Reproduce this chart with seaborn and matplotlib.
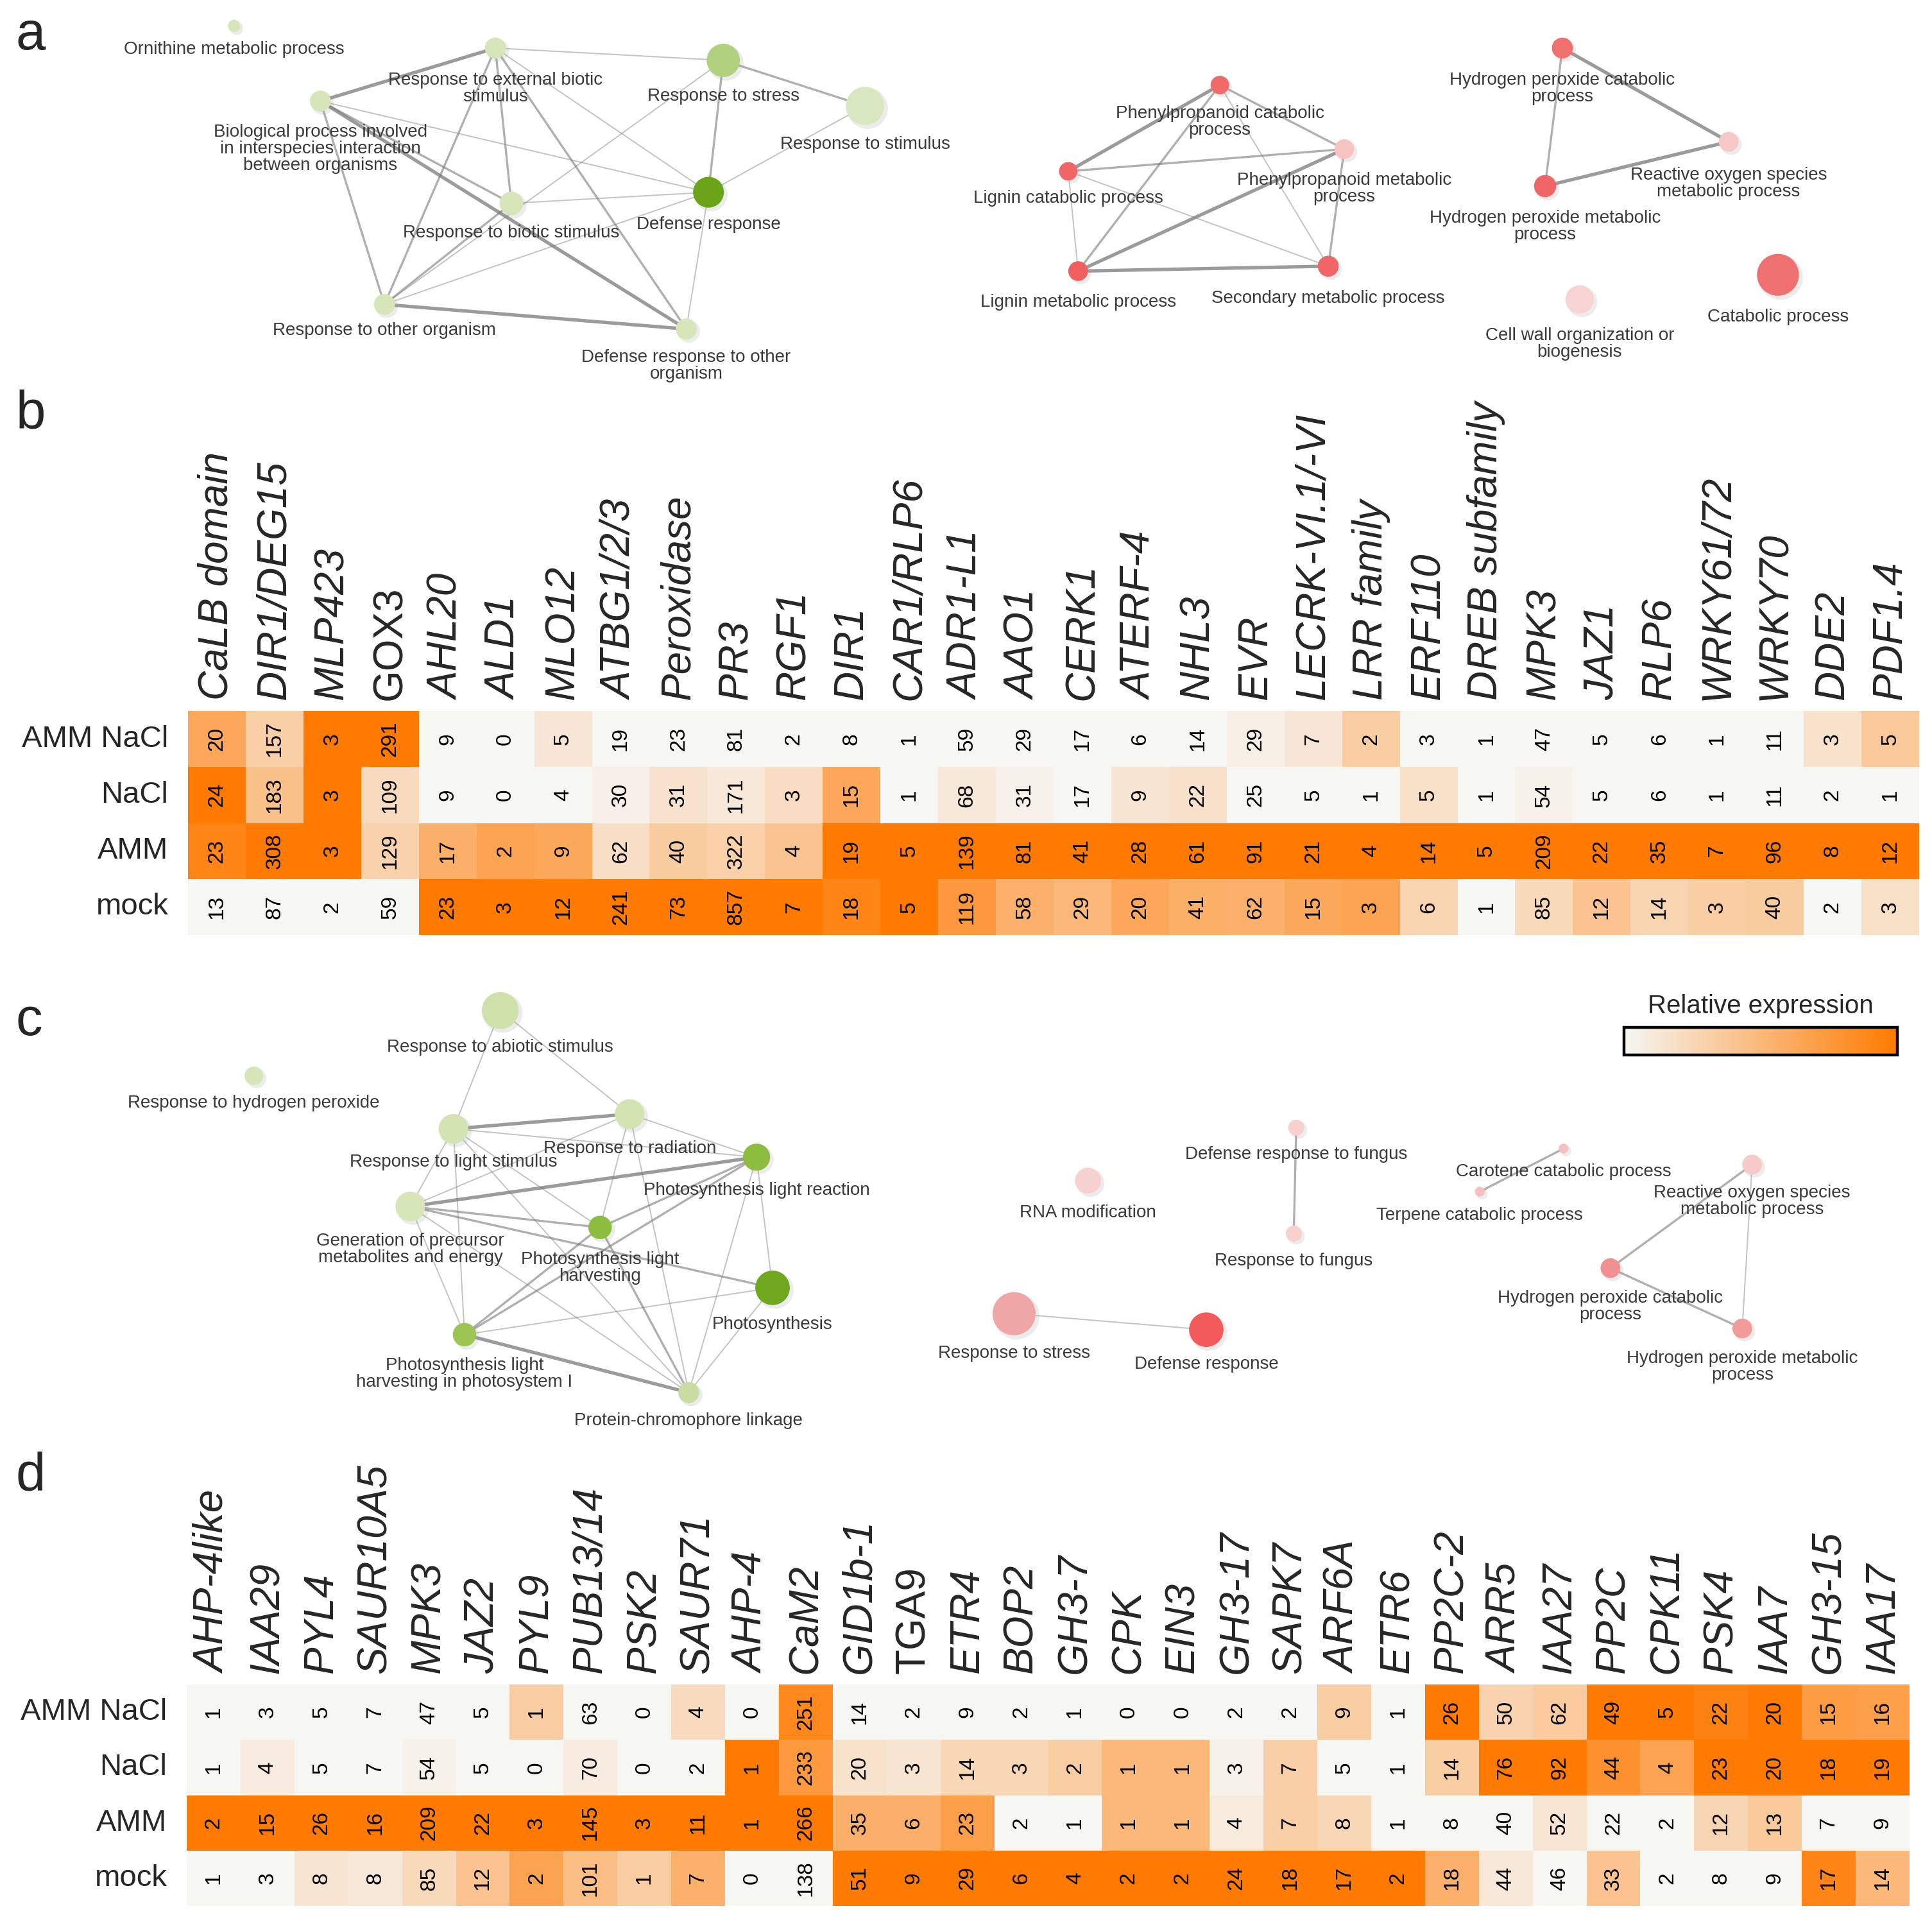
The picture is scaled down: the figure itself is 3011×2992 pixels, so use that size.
import numpy as np
import pandas as pd
import matplotlib
matplotlib.use("Agg")
import matplotlib.pyplot as plt
from matplotlib.colors import LinearSegmentedColormap
import matplotlib.colorbar as mcolorbar
from matplotlib import font_manager
import seaborn as sns

# ---------------- data ----------------
conditions = ["AMM NaCl", "NaCl", "AMM", "mock"]

genes_b = ["CaLB domain", "DIR1/DEG15", "MLP423", "GOX3", "AHL20", "ALD1", "MLO12",
           "ATBG1/2/3", "Peroxidase", "PR3", "RGF1", "DIR1", "CAR1/RLP6", "ADR1-L1",
           "AAO1", "CERK1", "ATERF-4", "NHL3", "EVR", "LECRK-VI.1/-VI", "LRR family",
           "ERF110", "DREB subfamily", "MPK3", "JAZ1", "RLP6", "WRKY61/72", "WRKY70",
           "DDE2", "PDF1.4"]
b_amm_nacl = [20, 157, 3, 291, 9, 0, 5, 19, 23, 81, 2, 8, 1, 59, 29, 17, 6, 14, 29, 7, 2, 3, 1, 47, 5, 6, 1, 11, 3, 5]
b_nacl     = [24, 183, 3, 109, 9, 0, 4, 30, 31, 171, 3, 15, 1, 68, 31, 17, 9, 22, 25, 5, 1, 5, 1, 54, 5, 6, 1, 11, 2, 1]
b_amm      = [23, 308, 3, 129, 17, 2, 9, 62, 40, 322, 4, 19, 5, 139, 81, 41, 28, 61, 91, 21, 4, 14, 5, 209, 22, 35, 7, 96, 8, 12]
b_mock     = [13, 87, 2, 59, 23, 3, 12, 241, 73, 857, 7, 18, 5, 119, 58, 29, 20, 41, 62, 15, 3, 6, 1, 85, 12, 14, 3, 40, 2, 3]

genes_d = ["AHP-4like", "IAA29", "PYL4", "SAUR10A5", "MPK3", "JAZ2", "PYL9", "PUB13/14",
           "PSK2", "SAUR71", "AHP-4", "CaM2", "GID1b-1", "TGA9", "ETR4", "BOP2", "GH3-7",
           "CPK", "EIN3", "GH3-17", "SAPK7", "ARF6A", "ETR6", "PP2C-2", "ARR5", "IAA27",
           "PP2C", "CPK11", "PSK4", "IAA7", "GH3-15", "IAA17"]
d_amm_nacl = [1, 3, 5, 7, 47, 5, 1, 63, 0, 4, 0, 251, 14, 2, 9, 2, 1, 0, 0, 2, 2, 9, 1, 26, 50, 62, 49, 5, 22, 20, 15, 16]
d_nacl     = [1, 4, 5, 7, 54, 5, 0, 70, 0, 2, 1, 233, 20, 3, 14, 3, 2, 1, 1, 3, 7, 5, 1, 14, 76, 92, 44, 4, 23, 20, 18, 19]
d_amm      = [2, 15, 26, 16, 209, 22, 3, 145, 3, 11, 1, 266, 35, 6, 23, 2, 1, 1, 1, 4, 7, 8, 1, 8, 40, 52, 22, 2, 12, 13, 7, 9]
d_mock     = [1, 3, 8, 8, 85, 12, 2, 101, 1, 7, 0, 138, 51, 9, 29, 6, 4, 2, 2, 24, 18, 17, 2, 18, 44, 46, 33, 2, 8, 9, 17, 14]

upright_genes = ["GOX3", "TGA9"]

# network a (layout units)
a_names = ["Ornithine metabolic process", "Response to external biotic\nstimulus",
           "Response to stress", "Response to stimulus",
           "Biological process involved\nin interspecies interaction\nbetween organisms",
           "Defense response", "Response to biotic stimulus", "Response to other organism",
           "Defense response to other\norganism",
           "Phenylpropanoid catabolic\nprocess", "Lignin catabolic process",
           "Phenylpropanoid metabolic\nprocess", "Lignin metabolic process",
           "Secondary metabolic process", "Hydrogen peroxide catabolic\nprocess",
           "Reactive oxygen species\nmetabolic process", "Hydrogen peroxide metabolic\nprocess",
           "Cell wall organization or\nbiogenesis", "Catabolic process"]
a_x = [190, 402, 587, 702, 260, 575, 415, 312, 557, 990, 867, 1091, 875, 1078, 1268, 1403, 1254, 1282, 1443]
a_y = [21, 39, 49, 86, 82, 156, 165, 247, 267, 69, 139, 121, 220, 216, 39, 115, 151, 243, 223]
a_size = [10, 17, 27, 31, 17, 25, 19, 17, 17, 15, 15, 16, 16, 17, 17, 16, 18, 23, 34]
a_color = ["#d6e6b8", "#d6e6b8", "#b2d17f", "#d9e7c0", "#d6e6b8", "#6aa519", "#d6e6b8", "#d6e6b8", "#d6e6b8",
           "#f06a6a", "#f06565", "#f7c4c4", "#f25f5f", "#f06666", "#f07070", "#f7c8c8", "#f06565", "#f8d3d3", "#ef7070"]
a_label_x = [190, 402, 587, 702, 260, 575, 415, 312, 557, 990, 867, 1091, 875, 1078, 1268, 1403, 1254, 1282, 1443]
a_label_y = [40, 72, 78, 117, 121, 182, 189, 268, 297, 99, 161, 153, 245, 242, 72, 149, 184, 279, 257]
a_src = [4, 4, 4, 4, 4, 1, 1, 1, 1, 1, 2, 2, 2, 3, 6, 6, 7, 7, 5,
         9, 9, 9, 9, 10, 10, 10, 12, 12, 11, 14, 14, 16]
a_dst = [1, 7, 8, 6, 5, 7, 6, 8, 2, 5, 3, 5, 7, 5, 5, 7, 8, 5, 8,
         10, 12, 11, 13, 11, 12, 13, 11, 13, 13, 15, 16, 15]
a_w = [3, 2, 3, 2, 1, 2, 2, 2, 1, 1, 2, 2, 1, 1, 1, 2, 3, 1, 1,
       3, 2, 2, 1, 2, 1, 1, 3, 3, 2, 3, 2, 3]

# network c (layout units)
c_names = ["Response to abiotic stimulus", "Response to hydrogen peroxide",
           "Response to light stimulus", "Response to radiation",
           "Photosynthesis light reaction", "Generation of precursor\nmetabolites and energy",
           "Photosynthesis light\nharvesting", "Photosynthesis",
           "Photosynthesis light\nharvesting in photosystem I", "Protein-chromophore linkage",
           "RNA modification", "Defense response to fungus", "Response to fungus",
           "Response to stress", "Defense response", "Carotene catabolic process",
           "Terpene catabolic process", "Reactive oxygen species\nmetabolic process",
           "Hydrogen peroxide catabolic\nprocess", "Hydrogen peroxide metabolic\nprocess"]
c_x = [406, 206, 368, 511, 614, 333, 487, 627, 377, 559, 883, 1052, 1050, 823, 979, 1269, 1201, 1422, 1307, 1414]
c_y = [820, 873, 916, 904, 939, 979, 996, 1045, 1083, 1130, 958, 915, 1001, 1066, 1079, 932, 967, 945, 1029, 1078]
c_size = [30, 15, 24, 24, 22, 24, 19, 28, 19, 17, 21, 13, 13, 35, 28, 8, 8, 16, 16, 16]
c_color = ["#cfe1aa", "#d6e6b8", "#d3e4b2", "#d3e4b2", "#8dbd3e", "#d6e6b8", "#8dbd3e", "#6fa71f", "#9cc653", "#c8dd9f",
           "#f7d0d0", "#f8d0d0", "#f8d0d0", "#efa6a6", "#f35b5b", "#f6c0c0", "#f6c0c0", "#f7caca", "#f09090", "#f29a9a"]
c_label_x = [406, 206, 368, 511, 614, 333, 487, 627, 377, 559, 883, 1052, 1050, 823, 979, 1269, 1201, 1422, 1307, 1414]
c_label_y = [850, 895, 943, 932, 966, 1014, 1029, 1075, 1115, 1153, 984, 937, 1023, 1098, 1107, 951, 986, 975, 1060, 1109]
c_src = [2, 0, 0, 2, 2, 2, 2, 2, 3, 3, 3, 3, 5, 5, 5, 5, 5, 4, 4, 4, 4, 6, 6, 8, 8, 7,
         11, 13, 15, 17, 17, 18]
c_dst = [3, 2, 3, 5, 6, 8, 9, 4, 5, 4, 6, 9, 4, 6, 7, 8, 9, 6, 8, 7, 9, 8, 9, 9, 7, 9,
         12, 14, 16, 18, 19, 19]
c_w = [3, 1, 1, 1, 1, 1, 1, 1, 1, 1, 1, 1, 3, 2, 2, 1, 1, 2, 2, 1, 1, 2, 2, 3, 1, 1,
       2, 1, 2, 2, 1, 2]

# ---------------- style ----------------
sns.set_style("white")
plt.rcParams['font.family'] = ['Liberation Sans', 'DejaVu Sans']

installed = {f.name for f in font_manager.fontManager.ttflist}
if "Liberation Sans Narrow" in installed:
    net_family, net_size = ["Liberation Sans Narrow", "Liberation Sans"], 23.5
else:
    net_family, net_size = ["Liberation Sans", "DejaVu Sans"], 20

W, H = 3011, 2992
fig = plt.figure(figsize=(W / 100, H / 100), dpi=100)
fig.patch.set_facecolor("white")

cmap = LinearSegmentedColormap.from_list("relexp", ["#f6f6f3", "#ff7a00"])

# ---------------- networks ----------------
axn = fig.add_axes([0, 0, 1, 1], zorder=0)
axn.set_xlim(0, 1568)
axn.set_ylim(1558, 0)
axn.axis("off")
unit_pt = (W / 1568) * 0.72
edge_lw = {1: 1.4, 2: 2.4, 3: 3.8}
edge_alpha = {1: 0.45, 2: 0.6, 3: 0.75}


def draw_network(names, xs, ys, sizes, colors, lx, ly, src, dst, ws):
    for s, t, w in zip(src, dst, ws):
        axn.plot([xs[s], xs[t]], [ys[s], ys[t]], color="#7a7a7a", lw=edge_lw[w],
                 alpha=edge_alpha[w], solid_capstyle="round", zorder=1)
    sz = [(d * unit_pt) ** 2 for d in sizes]
    axn.scatter([x + 2.0 for x in xs], [y + 2.0 for y in ys], s=[v * 1.15 for v in sz],
                color="#9a9a9a", alpha=0.18, edgecolors="none", zorder=2)
    axn.scatter(xs, ys, s=sz, c=colors, edgecolors="none", zorder=3)
    for name, x, y in zip(names, lx, ly):
        axn.text(x, y, name, ha="center", va="center", fontsize=net_size, color="#3a3a3a",
                 family=net_family, linespacing=1.0, zorder=4)


draw_network(a_names, a_x, a_y, a_size, a_color, a_label_x, a_label_y, a_src, a_dst, a_w)
draw_network(c_names, c_x, c_y, c_size, c_color, c_label_x, c_label_y, c_src, c_dst, c_w)


# ---------------- heatmaps ----------------
def make_heat(rect, genes, rows):
    vals = pd.DataFrame(rows, index=conditions, columns=genes)
    rng = (vals.max() - vals.min()).replace(0, 1)
    norm = (vals - vals.min()) / rng
    ax = fig.add_axes(rect, zorder=2)
    sns.heatmap(norm, ax=ax, cmap=cmap, vmin=0, vmax=1, cbar=False,
                annot=vals, fmt="d",
                annot_kws={"rotation": 90, "fontsize": 24, "color": "black"},
                xticklabels=genes, yticklabels=conditions)
    ax.tick_params(top=True, labeltop=True, bottom=False, labelbottom=False,
                   length=0)
    ax.tick_params(axis="x", pad=12)
    ax.tick_params(axis="y", pad=22)
    ax.set_xticklabels(genes, rotation=90, fontsize=46, va="bottom", ha="center")
    for lab in ax.get_xticklabels():
        lab.set_fontstyle("normal" if lab.get_text() in upright_genes else "italic")
    ax.set_yticklabels(conditions, rotation=0, fontsize=34)
    ax.set_xlabel("")
    ax.set_ylabel("")
    return ax


rect_b = [293 / W, 1 - 1457 / H, (2991 - 293) / W, (1457 - 1108) / H]
rect_d = [291 / W, 1 - 2970 / H, (2976 - 291) / W, (2970 - 2625) / H]
make_heat(rect_b, genes_b, [b_amm_nacl, b_nacl, b_amm, b_mock])
make_heat(rect_d, genes_d, [d_amm_nacl, d_nacl, d_amm, d_mock])

# ---------------- colour bar ----------------
axc = fig.add_axes([2531 / W, 1 - 1644 / H, (2957 - 2531) / W, (1644 - 1601) / H], zorder=3)
cb = mcolorbar.ColorbarBase(axc, cmap=cmap, orientation="horizontal", ticks=[])
cb.outline.set_linewidth(3.2)
cb.outline.set_edgecolor("black")
axc.set_title("Relative expression", fontsize=29, pad=16)

# ---------------- panel letters ----------------
for letter, yb in zip(["a", "b", "c", "d"], [77, 668, 1613, 2323]):
    fig.text(25 / W, 1 - yb / H, letter, fontsize=60, va="baseline", ha="left")

fig.savefig("out.png", dpi=100, facecolor="white")
